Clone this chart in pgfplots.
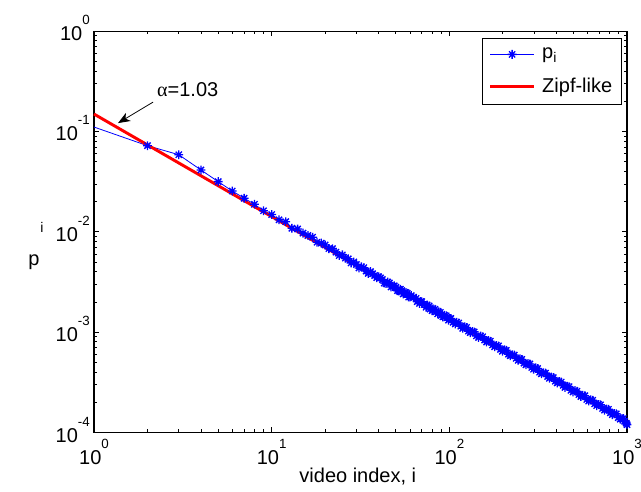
\documentclass[border=0pt]{standalone}
\usepackage{fontspec}
\setmainfont{Liberation Sans}
\newfontfamily\symf{Liberation Serif}
\usepackage{pgfplots}
\pgfplotsset{compat=1.18}
\usetikzlibrary{arrows.meta}

% matlab-style star: plus and cross
\pgfdeclareplotmark{mstar}{%
  \pgfpathmoveto{\pgfpoint{-\pgfplotmarksize}{0pt}}\pgfpathlineto{\pgfpoint{\pgfplotmarksize}{0pt}}%
  \pgfpathmoveto{\pgfpoint{0pt}{-\pgfplotmarksize}}\pgfpathlineto{\pgfpoint{0pt}{\pgfplotmarksize}}%
  \pgfpathmoveto{\pgfpoint{-0.707\pgfplotmarksize}{-0.707\pgfplotmarksize}}\pgfpathlineto{\pgfpoint{0.707\pgfplotmarksize}{0.707\pgfplotmarksize}}%
  \pgfpathmoveto{\pgfpoint{-0.707\pgfplotmarksize}{0.707\pgfplotmarksize}}\pgfpathlineto{\pgfpoint{0.707\pgfplotmarksize}{-0.707\pgfplotmarksize}}%
  \pgfusepathqstroke}

\newcommand{\tl}[1]{10\raisebox{12pt}{\fontsize{10}{10}\selectfont #1}}

\begin{document}
\begin{tikzpicture}
\useasboundingbox (-70.5pt,-43.9pt) rectangle (410.25pt,324.4pt);
\begin{axis}[
  xmode=log, ymode=log,
  scale only axis,
  width=399.75pt, height=301.1pt,
  xmin=1, xmax=1000, ymin=1e-4, ymax=1,
  clip=false,
  axis line style={line width=0.8pt},
  tick style={line width=0.6pt, black},
  major tick length=4pt, minor tick length=2.5pt,
  xtick={1,10,100,1000},
  xticklabels={\tl{0},\tl{1},\tl{2},\tl{3}},
  minor xtick={2,3,4,5,6,7,8,9,20,30,40,50,60,70,80,90,200,300,400,500,600,700,800,900},
  ytick={1e-4,1e-3,1e-2,1e-1,1},
  yticklabels={\tl{-4},\tl{-3},\tl{-2},\tl{-1},\tl{0}},
  minor ytick={2e-4,3e-4,4e-4,5e-4,6e-4,7e-4,8e-4,9e-4,2e-3,3e-3,4e-3,5e-3,6e-3,7e-3,8e-3,9e-3,2e-2,3e-2,4e-2,5e-2,6e-2,7e-2,8e-2,9e-2,0.2,0.3,0.4,0.5,0.6,0.7,0.8,0.9},
  tick label style={font=\fontsize{15}{18}\selectfont, inner sep=0pt},
  xticklabel style={anchor=base, yshift=-23.6pt},
  yticklabel style={anchor=base east, xshift=-3pt, yshift=-7.1pt},
  xlabel={video index, i},
  xlabel style={font=\fontsize{15}{18}\selectfont, at={(axis description cs:0.495,0)}, anchor=base, yshift=-37.1pt, inner sep=0pt},
  legend style={at={(0.9906,0.982)}, anchor=north east, draw=black, line width=0.6pt,
                font=\fontsize{15}{18}\selectfont, inner xsep=5pt, inner ysep=5pt, row sep=9pt,
                /tikz/every odd column/.append style={column sep=3pt}},
  legend cell align=left,
  legend image code/.code={\draw[#1,mark repeat=2,mark phase=2] plot coordinates {(0pt,0pt)(16.5pt,0pt)(33pt,0pt)};},
]
\addplot[blue, line width=0.6pt, mark=mstar, mark size=3.3pt, mark phase=2, mark options={line width=1pt}]
  coordinates {
  (1,0.1106)(2,0.0721)(3,0.0586)(4,0.0413)(5,0.0316)(6,0.0255)(7,0.0216)(8,0.0188)(9,0.0162)
  (10,0.01485)(11,0.01317)(12,0.01261)(13,0.01085)(14,0.01065)(15,0.009701)(16,0.009189)
  (17,0.008839)(18,0.007870)(19,0.007709)(20,0.007401)(21,0.006801)(22,0.006792)(23,0.006269)
  (24,0.005798)(25,0.005891)(26,0.005468)(27,0.005383)(28,0.004898)(29,0.005006)(30,0.004725)
  (31,0.004362)(32,0.004474)(33,0.004386)(34,0.004063)(35,0.003855)(36,0.004014)(37,0.003815)
  (38,0.003670)(39,0.003491)(40,0.003563)(41,0.003474)(42,0.003351)(43,0.003088)(44,0.003051)
  (45,0.003159)(46,0.003088)(47,0.002820)(48,0.002858)(49,0.002896)(50,0.002804)(51,0.002594)
  (52,0.002573)(53,0.002673)(54,0.002593)(55,0.002402)(56,0.002442)(57,0.002482)(58,0.002439)
  (59,0.002236)(60,0.002248)(61,0.002316)(63,0.002215)(65,0.002170)(66,0.002017)(68,0.001934)
  (69,0.002018)(70,0.002012)(72,0.001888)(74,0.001774)(75,0.001862)(77,0.001825)(78,0.001701)
  (80,0.001638)(81,0.001713)(83,0.001690)(84,0.001595)(86,0.001522)(87,0.001593)(89,0.001575)
  (90,0.001470)(92,0.001421)(94,0.001472)(96,0.001457)(97,0.001393)(99,0.001318)(100,0.001365)
  (102,0.001369)(105,0.001255)(108,0.001206)(110,0.001253)(113,0.001234)(116,0.001147)
  (119,0.001092)(122,0.001133)(125,0.001113)(128,0.001025)(131,0.0009899)(135,0.001012)
  (138,0.001006)(142,0.0009182)(146,0.0008860)(150,0.0009134)(154,0.0008992)(158,0.0008366)
  (162,0.0007970)(166,0.0008236)(170,0.0008130)(175,0.0007453)(180,0.0007157)(184,0.0007379)
  (189,0.0007295)(194,0.0006736)(199,0.0006458)(204,0.0006671)(209,0.0006583)(215,0.0006037)
  (220,0.0005829)(226,0.0005953)(232,0.0005916)(238,0.0005492)(244,0.0005245)(250,0.0005420)
  (256,0.0005351)(263,0.0004914)(270,0.0004729)(277,0.0004858)(284,0.0004814)(291,0.0004452)
  (298,0.0004277)(306,0.0004409)(314,0.0004344)(322,0.0003997)(330,0.0003854)(339,0.0003935)
  (348,0.0003911)(357,0.0003613)(366,0.0003467)(375,0.0003583)(385,0.0003527)(395,0.0003245)
  (405,0.0003126)(415,0.0003216)(426,0.0003181)(437,0.0002953)(448,0.0002819)(460,0.0002894)
  (472,0.0002865)(484,0.0002636)(497,0.0002536)(510,0.0002617)(523,0.0002579)(536,0.0002386)
  (550,0.0002286)(564,0.0002350)(579,0.0002325)(594,0.0002138)(609,0.0002061)(625,0.0002116)
  (641,0.0002096)(658,0.0001935)(675,0.0001855)(692,0.0001907)(710,0.0001887)(728,0.0001738)
  (747,0.0001673)(766,0.0001711)(786,0.0001702)(806,0.0001573)(827,0.0001508)(848,0.0001543)
  (870,0.0001534)(893,0.0001410)(916,0.0001358)(940,0.0001369)(955,0.0001378)(970,0.0001296)
  (990,0.0001240)(1000,0.0001200)
  };
\addlegendentry{p\textsubscript{i}}
\addplot[red, line width=2.2pt] coordinates {(1,0.149)(1000,0.0001285)};
\addlegendentry{Zipf-like}
\draw[-{Stealth[length=9pt,width=7pt,inset=2.5pt]}, line width=0.6pt] (axis cs:2.15,0.196) -- (axis cs:1.365,0.121);
\node[anchor=base west, inner sep=0pt, font=\fontsize{15}{18}\selectfont] at (axis cs:2.26,0.2253) {{\symf α}=1.03};
\end{axis}
\node[anchor=base west, inner sep=0pt, font=\fontsize{15}{18}\selectfont] at (-49.5pt,125pt) {p};
\node[anchor=base west, inner sep=0pt, font=\fontsize{10.5}{12}\selectfont] at (-40.5pt,150pt) {i};
\end{tikzpicture}
\end{document}
